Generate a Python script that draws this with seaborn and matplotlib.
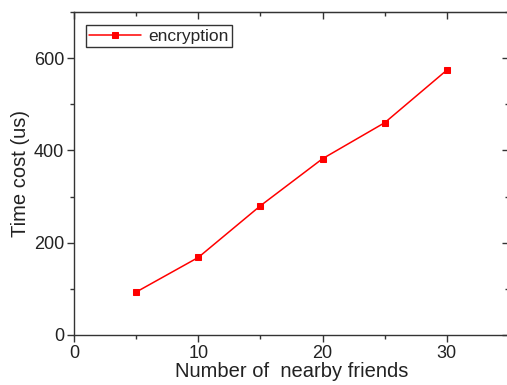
import matplotlib
matplotlib.use("Agg")
import matplotlib.pyplot as plt
from matplotlib.ticker import MultipleLocator
import seaborn as sns
import pandas as pd

friends = [5, 10, 15, 20, 25, 30]
encryption_us = [93, 168, 280, 382, 460, 574]

df = pd.DataFrame({"friends": friends, "time": encryption_us, "series": "encryption"})

sns.set_style("ticks")
plt.rcParams["font.family"] = ["Liberation Sans", "DejaVu Sans"]

fig = plt.figure(figsize=(5.07, 3.85), dpi=100)
ax = fig.add_axes([0.146, 0.130, 0.858, 0.839])

sns.lineplot(data=df, x="friends", y="time", hue="series", palette=["#ff0000"],
             marker="s", markersize=5, markeredgecolor="#ff0000", linewidth=1.1, ax=ax)

ax.set_xlim(0, 35)
ax.set_ylim(0, 700)
ax.xaxis.set_major_locator(MultipleLocator(10))
ax.xaxis.set_minor_locator(MultipleLocator(5))
ax.yaxis.set_major_locator(MultipleLocator(200))
ax.yaxis.set_minor_locator(MultipleLocator(100))

for s in ax.spines.values():
    s.set_color("#333333")
    s.set_linewidth(1.0)
    s.set_visible(True)

ax.tick_params(which="major", direction="out", length=5, width=1, color="#333333",
               labelsize=13, labelcolor="#222222", pad=2)
ax.tick_params(which="minor", direction="out", length=3, width=1, color="#333333")

top = ax.secondary_xaxis("top")
top.xaxis.set_major_locator(MultipleLocator(10))
top.xaxis.set_minor_locator(MultipleLocator(5))
top.tick_params(which="major", direction="in", length=5, width=1, color="#333333", labeltop=False)
top.tick_params(which="minor", direction="in", length=3, width=1, color="#333333")
top.spines["top"].set_color("#333333")

right = ax.secondary_yaxis("right")
right.yaxis.set_major_locator(MultipleLocator(200))
right.yaxis.set_minor_locator(MultipleLocator(100))
right.tick_params(which="major", direction="in", length=5, width=1, color="#333333", labelright=False)
right.tick_params(which="minor", direction="in", length=3, width=1, color="#333333")

ax.set_xlabel("Number of  nearby friends", fontsize=14.5, color="#222222", labelpad=0)
ax.set_ylabel("Time cost (us)", fontsize=14.5, color="#222222", labelpad=3)

leg = ax.legend(loc="upper left", bbox_to_anchor=(0.015, 0.975), fontsize=12.5,
                frameon=True, fancybox=False, edgecolor="#333333", framealpha=1,
                handlelength=3.0, borderpad=0.2, handletextpad=0.4, borderaxespad=0.3)
leg.get_frame().set_linewidth(1.0)

fig.savefig("out.png", dpi=100)
